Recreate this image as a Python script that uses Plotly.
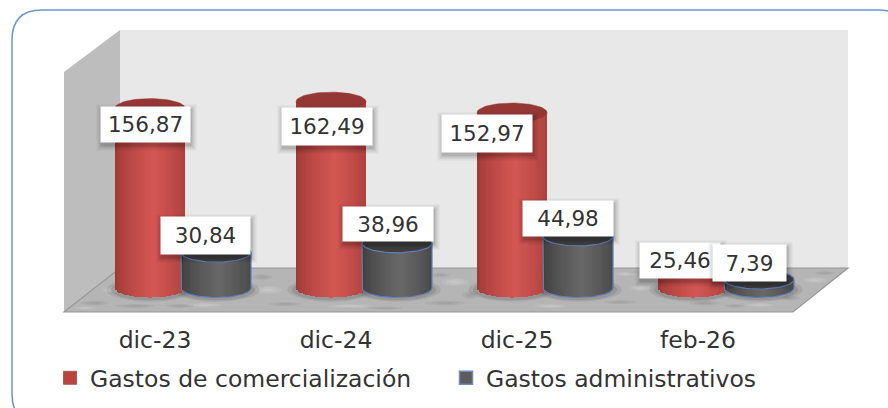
import numpy as np
import plotly.graph_objects as go

categories = ["dic-23", "dic-24", "dic-25", "feb-26"]
comercializacion = [156.87, 162.49, 152.97, 25.46]
administrativos = [30.84, 38.96, 44.98, 7.39]
labels_com = ["156,87", "162,49", "152,97", "25,46"]
labels_adm = ["30,84", "38,96", "44,98", "7,39"]

W, H = 888, 408
PLOT_B = 312
Y0 = 288.0
PX_PER_UNIT = 1.147
X0, STEP = 183.0, 181.0
RX, RY = 35.0, 9.5
OFF = 33.0
FONT = "DejaVu Sans"
TXT = "#333333"

xr = [(0 - X0) / STEP, (W - X0) / STEP]
yr = [(Y0 - PLOT_B) / PX_PER_UNIT, Y0 / PX_PER_UNIT]
rx_u = RX / STEP
ry_u = RY / PX_PER_UNIT
off_u = OFF / STEP


def px(x):
    return x / W


def py(y):
    return (PLOT_B - y) / PLOT_B


def poly(points, fill, line="rgba(0,0,0,0)", lw=0, layer="below"):
    path = "M " + " L ".join(f"{px(a):.5f},{py(b):.5f}" for a, b in points) + " Z"
    return dict(type="path", xref="paper", yref="paper", path=path, fillcolor=fill,
                line=dict(color=line, width=lw), layer=layer)


def mix(a, b, t):
    return "rgb(" + ",".join(str(int(round(a[k] + (b[k] - a[k]) * t))) for k in range(3)) + ")"


def cyl_bars(values, sign, edge, mid, name):
    n = 40
    ts = (np.arange(n) + 0.5) / n * 2 - 1
    xs, ys, bases, cols, ws = [], [], [], [], []
    for i, v in enumerate(values):
        c = i + sign * off_u
        for t in ts:
            front = -ry_u * np.sqrt(1 - t * t)
            xs.append(c + rx_u * t)
            bases.append(front)
            ys.append(v - front)
            cols.append(mix(edge, mid, max(0, 1 - abs(t - 0.1) / 1.1) ** 0.7))
            ws.append(2 * rx_u / n * 1.15)
    return go.Bar(x=xs, y=ys, base=bases, width=ws, marker=dict(color=cols, line=dict(width=0)),
                  showlegend=False, hoverinfo="skip", name=name)


ang = np.linspace(0, 2 * np.pi, 72)
fig = go.Figure()
fig.add_trace(cyl_bars(comercializacion, -1, (156, 56, 53), (212, 86, 82), "com"))
fig.add_trace(cyl_bars(administrativos, 1, (60, 60, 60), (104, 104, 104), "adm"))

for i, v in enumerate(comercializacion):
    c = i - off_u
    fig.add_trace(go.Scatter(x=c + rx_u * np.cos(ang), y=v + ry_u * np.sin(ang), mode="lines",
                             fill="toself", fillcolor="#943735", line=dict(color="#943735", width=0.5),
                             showlegend=False, hoverinfo="skip"))
arc = np.linspace(np.pi, 2 * np.pi, 36)
for i, v in enumerate(administrativos):
    c = i + off_u
    fig.add_trace(go.Scatter(x=c + rx_u * np.cos(ang), y=v + ry_u * np.sin(ang), mode="lines",
                             fill="toself", fillcolor="#3f3f3f", line=dict(color="#5f7fb5", width=1.2),
                             showlegend=False, hoverinfo="skip"))
    ox = np.concatenate([[c - rx_u], c + rx_u * np.cos(arc), [c + rx_u]])
    oy = np.concatenate([[v], ry_u * np.sin(arc), [v]])
    fig.add_trace(go.Scatter(x=ox, y=oy, mode="lines", line=dict(color="#5f7fb5", width=1.2),
                             showlegend=False, hoverinfo="skip"))

# legend entries
fig.add_trace(go.Scatter(x=[None], y=[None], mode="markers", name="Gastos de comercialización",
                         marker=dict(symbol="square", size=13, color="#b8433f",
                                     line=dict(color="#a85a58", width=1))))
fig.add_trace(go.Scatter(x=[None], y=[None], mode="markers", name="Gastos administrativos",
                         marker=dict(symbol="square", size=13, color="#5c5c5c",
                                     line=dict(color="#6f8ab8", width=1.5))))

shapes = [
    poly([(120, 30), (848, 30), (848, 268), (120, 268)], "#e8e8e8"),
    poly([(64, 72), (120, 30), (120, 268), (64, 312)], "#bdbdbd"),
    poly([(64, 312), (120, 268), (848, 268), (793, 312)], "#b5b5b5", "#979797", 1.2),
]

# floor mottling: centre x, centre y, half width, half height, dark?
mottles = [
    (95, 303, 14, 2.5, 1), (135, 306, 20, 2, 1), (205, 305, 18, 2, 0), (112, 290, 10, 3, 0),
    (268, 290, 14, 4, 0), (285, 304, 16, 2, 1), (262, 277, 10, 3, 1), (350, 306, 22, 2, 0),
    (445, 303, 20, 2.5, 1), (455, 282, 14, 4, 0), (440, 275, 10, 2, 1), (620, 302, 16, 2, 1),
    (640, 288, 10, 3, 0), (550, 306, 16, 2, 0), (600, 285, 8, 3, 1), (180, 306, 14, 2, 1),
    (705, 303, 16, 2.5, 1), (760, 305, 14, 2, 0), (815, 280, 12, 3, 0), (790, 298, 10, 2.5, 1),
    (650, 272, 16, 2, 1), (385, 308, 18, 1.5, 1), (625, 274, 10, 2, 0), (735, 306, 10, 2, 1),
    (825, 273, 10, 2, 1), (85, 308, 10, 1.5, 0), (470, 295, 8, 4, 1), (305, 275, 8, 3, 0),
]
for cx, cy, a, b, dark in mottles:
    for k in (1.0, 0.7, 0.4):
        shapes.append(dict(type="circle", xref="paper", yref="paper", layer="below",
                           x0=px(cx - a * k), x1=px(cx + a * k), y0=py(cy + b * k), y1=py(cy - b * k),
                           fillcolor="rgba(105,105,105,0.08)" if dark else "rgba(226,226,226,0.14)",
                           line=dict(width=0)))

# soft contact shadows at the foot of every cylinder, placed on the axes
for sign in (-1, 1):
    for i in range(4):
        c = i + sign * off_u
        for grow, alpha in ((1.25, 0.10), (1.12, 0.14)):
            shapes.append(dict(type="circle", xref="x", yref="y", layer="below",
                               x0=c - rx_u * grow, x1=c + rx_u * grow,
                               y0=-ry_u * grow - 1.5, y1=ry_u * grow - 1.5,
                               fillcolor=f"rgba(50,50,50,{alpha})", line=dict(width=0)))

r = 30
L, T, R, B = 12, 10, 908, 424
card = (f"M {px(L + r)},{py(T)} L {px(R - r)},{py(T)} Q {px(R)},{py(T)} {px(R)},{py(T + r)} "
        f"L {px(R)},{py(B - r)} Q {px(R)},{py(B)} {px(R - r)},{py(B)} "
        f"L {px(L + r)},{py(B)} Q {px(L)},{py(B)} {px(L)},{py(B - r)} "
        f"L {px(L)},{py(T + r)} Q {px(L)},{py(T)} {px(L + r)},{py(T)} Z")
shapes.append(dict(type="path", xref="paper", yref="paper", path=card, fillcolor="rgba(0,0,0,0)",
                   line=dict(color="#6a94cf", width=1.5), layer="below"))

annotations = []
shift_com = [(-4.5, 16.5), (-4, 24.5), (-25, 21), (-13, 2)]
shift_adm = [(-10.5, -17.5), (-9, -19), (-10, -18), (-9.5, -16.5)]
sizes_com = [(89, 35), (90, 37), (90, 37), (80, 35)]
sizes_adm = [(89, 37), (90, 34), (90, 35), (73, 36)]


def add_label(x, y, text, shift, size):
    for grow, alpha in ((10, 0.05), (6, 0.08), (2, 0.12)):
        annotations.append(dict(x=x, y=y, xref="x", yref="y", text=" ", showarrow=False,
                                xshift=shift[0] + 1, yshift=-shift[1] - 3,
                                width=size[0] + grow, height=size[1] + grow, borderpad=0,
                                bgcolor=f"rgba(0,0,0,{alpha})"))
    annotations.append(dict(x=x, y=y, xref="x", yref="y", text=text, showarrow=False,
                            xshift=shift[0], yshift=-shift[1], width=size[0], height=size[1],
                            borderpad=0, bgcolor="#ffffff", align="center",
                            font=dict(family=FONT, size=21.5, color=TXT)))


for i in range(4):
    add_label(i - off_u, comercializacion[i], labels_com[i], shift_com[i], sizes_com[i])
for i in range(4):
    add_label(i + off_u, administrativos[i], labels_adm[i], shift_adm[i], sizes_adm[i])

fig.update_layout(
    width=W, height=H, margin=dict(l=0, r=0, t=0, b=H - PLOT_B, pad=0),
    paper_bgcolor="#ffffff", plot_bgcolor="rgba(0,0,0,0)", barmode="overlay", bargap=0,
    shapes=shapes, annotations=annotations,
    xaxis=dict(range=xr, showgrid=False, zeroline=False, showline=False, ticks="",
               tickmode="array", tickvals=[i - 28 / STEP for i in range(4)], ticktext=categories,
               tickfont=dict(family=FONT, size=23.5, color=TXT), automargin=False,
               ticklabelstandoff=11),
    yaxis=dict(range=yr, visible=False),
    showlegend=True,
    legend=dict(orientation="h", x=px(50), xanchor="left", y=py(378), yanchor="middle",
                font=dict(family=FONT, size=23.5, color=TXT), entrywidthmode="pixels", entrywidth=351,
                bgcolor="rgba(0,0,0,0)", itemclick=False, itemdoubleclick=False),
)

fig.write_html("out.html", config=dict(displayModeBar=False),
               post_script="document.body.style.margin='0';document.body.style.overflow='hidden';")
